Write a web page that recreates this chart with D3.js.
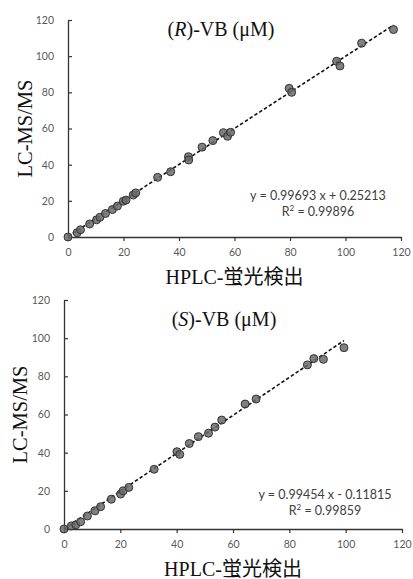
<!DOCTYPE html>
<html><head><meta charset="utf-8">
<script src="https://cdn.jsdelivr.net/npm/d3@7"></script>
<style>
html,body{margin:0;padding:0;background:#fff;}
svg{display:block;}
</style></head>
<body>
<script>
// ---- data ----
const ticks = [0, 20, 40, 60, 80, 100, 120];
const xTitle = "HPLC-蛍光検出";
const yTitle = "LC-MS/MS";

const rX = [0, 3.3, 4.5, 7.8, 10.3, 11.5, 13.5, 16.0, 17.8, 19.9, 20.9, 23.5, 24.4, 32.3, 37.0, 43.4, 43.5, 48.3, 52.2, 56.0, 57.5, 58.6, 79.7, 80.6, 96.8, 98.0, 105.8, 117.3];
const rY = [0, 2.4, 4.0, 7.2, 9.5, 10.9, 13.0, 15.2, 17.1, 19.8, 20.4, 23.2, 24.4, 33.0, 36.1, 44.4, 42.6, 49.7, 53.3, 57.7, 55.7, 57.9, 82.2, 80.0, 97.2, 94.6, 107.2, 114.7];
const rFit = {slope: 0.99693, intercept: 0.25213, r2: "0.99896", eq: "y = 0.99693 x + 0.25213"};

const sX = [0, 2.6, 4.2, 5.9, 8.3, 11.0, 13.0, 16.8, 20.1, 21.0, 23.0, 32.0, 40.1, 41.1, 44.5, 47.7, 51.3, 53.6, 56.0, 64.3, 68.2, 86.4, 88.7, 92.1, 99.4];
const sY = [0, 1.6, 2.2, 3.8, 6.8, 9.5, 11.7, 15.6, 18.3, 20.0, 21.8, 31.3, 40.5, 39.1, 44.8, 48.4, 50.2, 53.4, 57.1, 65.5, 68.1, 86.0, 89.3, 88.9, 95.0];
const sFit = {slope: 0.99454, intercept: -0.11815, r2: "0.99859", eq: "y = 0.99454 x - 0.11815"};

const svg = d3.select("body").append("svg").attr("width", 413).attr("height", 579);

function panel(cfg){
  const x = d3.scaleLinear().domain([0,120]).range([cfg.left, cfg.right]);
  const y = d3.scaleLinear().domain([0,120]).range([cfg.bottom, cfg.top]);
  const g = svg.append("g");
  const tickFont = "Lato, 'Open Sans', sans-serif";

  // y axis
  const ya = g.append("g").attr("transform", `translate(${cfg.left},0)`)
    .call(d3.axisLeft(y).tickValues(ticks).tickSizeInner(-4).tickSizeOuter(0).tickPadding(14));
  // x axis
  const xa = g.append("g").attr("transform", `translate(0,${cfg.bottom})`)
    .call(d3.axisBottom(x).tickValues(ticks).tickSizeInner(4).tickSizeOuter(0).tickPadding(8));
  [ya, xa].forEach(a=>{
    a.select(".domain").attr("stroke", "#333").attr("stroke-width", 1.3);
    a.selectAll(".tick line").attr("stroke", "#333").attr("stroke-width", 1.2);
    a.selectAll(".tick text").attr("fill", "#595959").style("font-family", tickFont).style("font-size", "10.5px");
  });
  ya.selectAll(".tick text").attr("x", -14);

  // trendline
  const xs = cfg.xs, ys = cfg.ys;
  const x0 = d3.min(xs), x1 = d3.max(xs);
  g.append("line")
    .attr("x1", x(x0)).attr("y1", y(cfg.fit.slope*x0 + cfg.fit.intercept))
    .attr("x2", x(x1)).attr("y2", y(cfg.fit.slope*x1 + cfg.fit.intercept))
    .attr("stroke", "#111").attr("stroke-width", 1.6).attr("stroke-dasharray", "3.5,2.2");

  // points
  g.append("g").selectAll("circle").data(xs.map((v,i)=>[v, ys[i]])).join("circle")
    .attr("cx", d=>x(d[0])).attr("cy", d=>y(d[1])).attr("r", 4)
    .attr("fill", "#6a6a6a").attr("fill-opacity", 0.85)
    .attr("stroke", "#333").attr("stroke-width", 1);

  // equation
  const eqX = cfg.eqX;
  g.append("text").attr("x", eqX).attr("y", cfg.eqY).attr("text-anchor","middle")
    .attr("fill", "#404040").style("font-family", tickFont).style("font-size", "12.5px")
    .text(cfg.fit.eq);
  const r2 = g.append("text").attr("x", eqX).attr("y", cfg.eqY + 16).attr("text-anchor","middle")
    .attr("fill", "#404040").style("font-family", tickFont).style("font-size", "12.5px");
  r2.append("tspan").text("R");
  r2.append("tspan").attr("dy", -5).style("font-size", "8px").text("2");
  r2.append("tspan").attr("dy", 5).text(" = " + cfg.fit.r2);

  const serif = "'Liberation Serif', 'Times New Roman', 'Noto Sans CJK JP', serif";
  // title
  const t = g.append("text").attr("x", cfg.titleX).attr("y", cfg.titleY).attr("text-anchor","middle")
    .style("font-family", serif).style("font-size", "20px").attr("fill", "#111");
  t.append("tspan").text("(");
  t.append("tspan").style("font-style","italic").text(cfg.letter);
  t.append("tspan").text(")-VB (μM)");

  // x title
  g.append("text").attr("x", (cfg.left+cfg.right)/2).attr("y", cfg.xTitleY).attr("text-anchor","middle")
    .style("font-family", serif).style("font-size", "20px").attr("fill", "#111").text(xTitle);
  // y title
  g.append("text").attr("transform", `translate(${cfg.yTitleX},${(cfg.top+cfg.bottom)/2}) rotate(-90)`)
    .attr("text-anchor","middle")
    .style("font-family", serif).style("font-size", "20.5px").attr("fill", "#111").text(yTitle);
}

panel({left:68, right:401, top:20, bottom:237, xs:rX, ys:rY, fit:rFit, letter:"R",
       eqX:318, eqY:200, titleX:221, titleY:36, xTitleY:284, yTitleX:32});
panel({left:64, right:402, top:300, bottom:529, xs:sX, ys:sY, fit:sFit, letter:"S",
       eqX:325, eqY:499, titleX:224, titleY:326, xTitleY:576, yTitleX:27});
</script>
</body></html>
